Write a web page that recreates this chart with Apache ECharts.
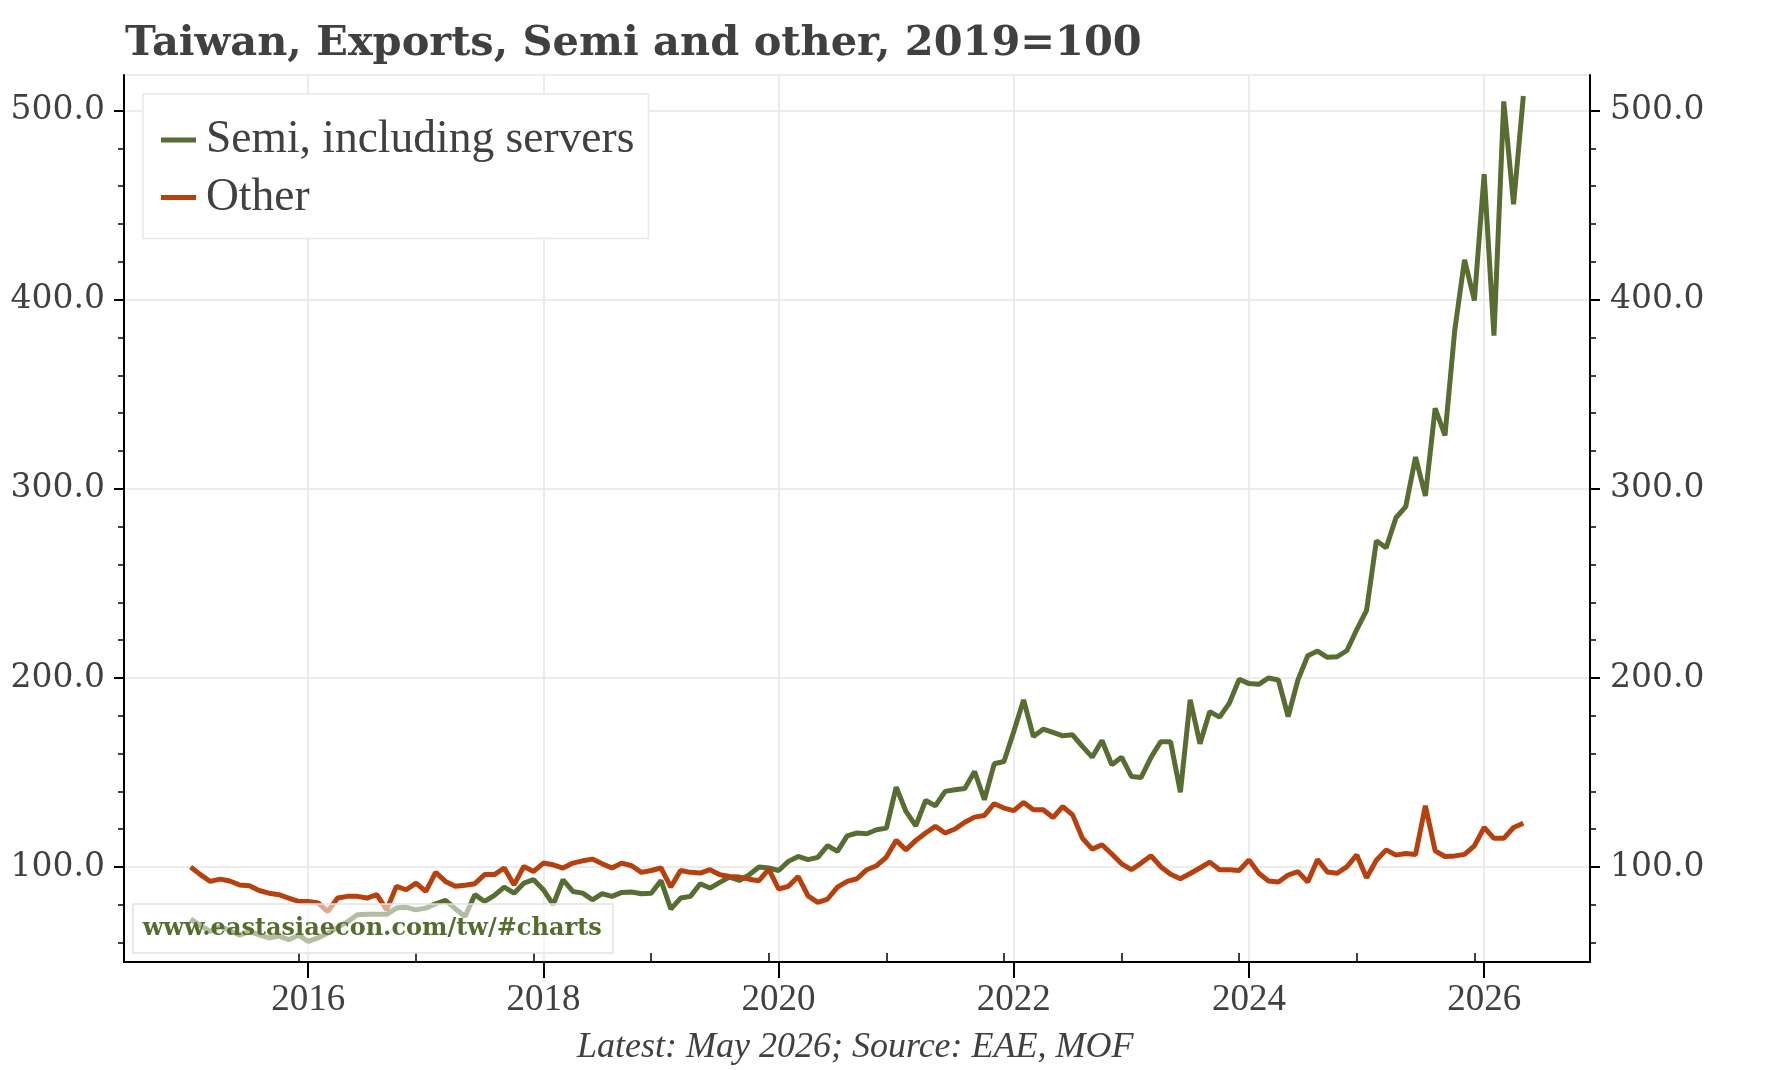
<!DOCTYPE html>
<html><head><meta charset="utf-8">
<script src="https://cdn.jsdelivr.net/npm/echarts@6/dist/echarts.min.js"></script>
<style>html,body{margin:0;padding:0;background:#fff}#c{width:1767px;height:1070px}</style>
</head><body><div id="c"></div>
<script>
// Monthly data, Jan 2015 .. May 2026
const startYear = 2015;
const seriesNames = ['Semi, including servers', 'Other'];
const semi = [
  72.5, 69.0, 66.0, 68.6, 66.5, 64.0, 66.0, 64.2, 62.5, 63.5, 61.6, 64.0,
  60.7, 62.5, 65.1, 68.0, 71.0, 74.8, 75.1, 75.1, 75.0, 78.3, 78.7, 77.4,
  78.3, 80.6, 82.4, 78.0, 73.9, 85.4, 81.8, 85.0, 89.4, 86.2, 91.5, 93.3,
  88.0, 80.1, 93.3, 87.1, 86.2, 82.7, 85.9, 84.5, 86.6, 86.8, 85.9, 86.2,
  92.9, 77.8, 83.6, 84.5, 91.2, 88.9, 91.9, 94.7, 92.9, 95.9, 100.0, 99.5,
  98.2, 103.0, 105.6, 103.9, 105.1, 111.3, 108.3, 116.5, 118.0, 117.6, 119.7, 120.6,
  142.3, 129.4, 121.8, 135.2, 132.4, 140.0, 140.9, 141.5, 150.5, 135.6, 154.6, 155.8,
  171.7, 188.4, 169.0, 172.9, 171.2, 169.4, 169.9, 163.8, 158.1, 166.9, 154.1, 158.1,
  147.9, 147.4, 158.0, 166.3, 166.3, 139.5, 188.5, 165.2, 182.2, 179.3, 186.7, 199.3,
  197.0, 196.6, 200.0, 198.9, 179.6, 199.0, 211.7, 214.2, 210.9, 211.2, 214.5, 225.6,
  235.7, 272.5, 268.8, 284.7, 290.6, 316.8, 296.2, 342.6, 328.2, 383.9, 421.1, 399.6,
  466.4, 381.0, 504.8, 450.4, 507.7
];
const other = [
  100.0, 96.0, 92.4, 93.6, 92.6, 90.5, 90.1, 87.6, 86.2, 85.4, 83.6, 81.8,
  81.8, 81.0, 76.5, 83.6, 84.5, 84.5, 83.6, 85.4, 77.4, 89.8, 88.0, 91.5,
  87.1, 97.2, 92.4, 89.8, 90.4, 91.2, 96.0, 96.0, 99.5, 90.6, 100.3, 97.7,
  102.1, 101.2, 99.5, 102.1, 103.3, 104.2, 101.7, 99.5, 102.1, 100.7, 97.2, 98.2,
  99.5, 89.4, 98.2, 97.2, 96.8, 98.6, 95.9, 95.0, 94.7, 93.6, 92.8, 98.9,
  88.4, 89.8, 95.0, 84.8, 81.3, 83.1, 89.4, 92.4, 93.8, 98.6, 100.7, 105.3,
  114.1, 109.1, 114.1, 118.0, 121.5, 118.0, 120.1, 123.7, 126.4, 127.3, 133.5, 131.2,
  129.8, 134.2, 130.3, 130.3, 126.2, 132.0, 127.6, 115.3, 109.5, 111.8, 106.9, 101.7,
  98.6, 102.1, 106.0, 100.2, 96.2, 93.8, 96.6, 99.5, 102.6, 98.6, 98.6, 98.2,
  103.8, 96.7, 92.6, 92.1, 95.8, 97.6, 92.1, 104.0, 97.4, 96.7, 100.2, 106.4,
  94.4, 103.6, 109.1, 106.3, 107.2, 106.6, 132.4, 108.6, 105.6, 105.9, 106.7, 111.2,
  120.9, 115.2, 115.2, 120.9, 123.2
];
const xTickYears = [2016, 2018, 2020, 2022, 2024, 2026];
const xMinorTicks = [2015.9167, 2016.9167, 2017.9167, 2018.9167, 2019.9167, 2020.9167,
                     2021.9167, 2022.9167, 2023.9167, 2024.9167, 2025.9167];
const yTicks = [100, 200, 300, 400, 500];
const yMinorTicks = [60, 80, 120, 140, 160, 180, 220, 240, 260, 280, 320, 340, 360, 380, 420, 440, 460, 480];
const titleText = 'Taiwan, Exports, Semi and other, 2019=100';
const footerText = 'Latest: May 2026; Source: EAE, MOF';
const watermarkText = 'www.eastasiaecon.com/tw/#charts';

const toPairs = arr => arr.map((v, i) => [startYear + i / 12, v]);

const X_MIN = 2014.4333, X_MAX = 2026.9;
const Y_MIN = 49.8, Y_MAX = 518.8;
const GREEN = '#576d31', RED = '#b7410e', TXT = '#404040', GRID = '#e6e6e6';

const chart = echarts.init(document.getElementById('c'), null, {renderer: 'canvas'});
const hidden = {show: false};
chart.setOption({
  animation: false,
  backgroundColor: '#fff',
  title: [
    {text: titleText, left: 125, top: 23, padding: 0,
     textStyle: {fontFamily: 'DejaVu Serif', fontWeight: 'bold', fontSize: 41.5, color: TXT}},
    {text: footerText, left: 577, top: 1030, padding: 0,
     textStyle: {fontFamily: 'Liberation Serif', fontStyle: 'italic', fontWeight: 'normal', fontSize: 36, color: TXT}}
  ],
  grid: {left: 124, right: 177, top: 75, bottom: 108, show: true, borderColor: GRID, borderWidth: 1.5, backgroundColor: 'transparent'},
  legend: {
    data: seriesNames, orient: 'vertical', left: 143, top: 94,
    padding: [23, 14, 18, 18], itemGap: 11.6, itemWidth: 35, itemHeight: 5, icon: 'rect',
    backgroundColor: '#fff', borderColor: '#e8e8e8', borderWidth: 1.5,
    textStyle: {fontFamily: 'Liberation Serif', fontSize: 45.5, color: TXT, lineHeight: 45, padding: [0, 0, 0, 5]}
  },
  xAxis: [
    {type: 'value', min: X_MIN, max: X_MAX, position: 'bottom',
     axisLine: {show: true, onZero: false, lineStyle: {color: '#000', width: 2}},
     axisTick: {show: true, customValues: xTickYears, length: 16, lineStyle: {color: '#000', width: 2}},
     axisLabel: {show: true, customValues: xTickYears, margin: 20, formatter: v => String(Math.round(v)),
                 fontFamily: 'Liberation Serif', fontSize: 37, color: TXT},
     splitLine: {show: true, lineStyle: {color: GRID, width: 1.5}}},
    {type: 'value', min: X_MIN, max: X_MAX, position: 'bottom',
     axisLine: hidden, axisLabel: hidden, splitLine: hidden,
     axisTick: {show: true, inside: true, customValues: xMinorTicks, length: 9, lineStyle: {color: '#000', width: 1.5}}}
  ],
  yAxis: [
    {type: 'value', min: Y_MIN, max: Y_MAX, position: 'left',
     axisLine: {show: true, onZero: false, lineStyle: {color: '#000', width: 2}},
     axisTick: {show: true, customValues: yTicks, length: 10, lineStyle: {color: '#000', width: 2}},
     axisLabel: {show: true, customValues: yTicks, margin: 19, formatter: v => v.toFixed(1),
                 fontFamily: 'DejaVu Serif', fontSize: 33, color: TXT},
     splitLine: {show: true, lineStyle: {color: GRID, width: 1.5}}},
    {type: 'value', min: Y_MIN, max: Y_MAX, position: 'right',
     axisLine: {show: true, onZero: false, lineStyle: {color: '#000', width: 2}},
     axisTick: {show: true, customValues: yTicks, length: 10, lineStyle: {color: '#000', width: 2}},
     axisLabel: {show: true, customValues: yTicks, margin: 20, formatter: v => v.toFixed(1),
                 fontFamily: 'DejaVu Serif', fontSize: 33, color: TXT},
     splitLine: hidden},
    {type: 'value', min: Y_MIN, max: Y_MAX, position: 'left',
     axisLine: hidden, axisLabel: hidden, splitLine: hidden,
     axisTick: {show: true, customValues: yMinorTicks, length: 6, lineStyle: {color: '#000', width: 1.5}}},
    {type: 'value', min: Y_MIN, max: Y_MAX, position: 'right',
     axisLine: hidden, axisLabel: hidden, splitLine: hidden,
     axisTick: {show: true, customValues: yMinorTicks, length: 6, lineStyle: {color: '#000', width: 1.5}}}
  ],
  series: [
    {name: seriesNames[0], type: 'line', data: toPairs(semi), xAxisIndex: 0, yAxisIndex: 0,
     symbol: 'none', showSymbol: false, color: GREEN, lineStyle: {color: GREEN, width: 5}, z: 3},
    {name: seriesNames[1], type: 'line', data: toPairs(other), xAxisIndex: 0, yAxisIndex: 0,
     symbol: 'none', showSymbol: false, color: RED, lineStyle: {color: RED, width: 5}, z: 4}
  ],
  graphic: [
    {type: 'rect', z: 100, shape: {x: 133, y: 904, width: 480, height: 49},
     style: {fill: 'rgba(255,255,255,0.55)', stroke: '#e2e2e2', lineWidth: 1.5}},
    {type: 'text', z: 101, x: 142.7, y: 928.5,
     style: {text: watermarkText, font: 'bold 24px "DejaVu Serif"', fill: '#566b2e', verticalAlign: 'middle', align: 'left'}}
  ]
});
</script></body></html>
